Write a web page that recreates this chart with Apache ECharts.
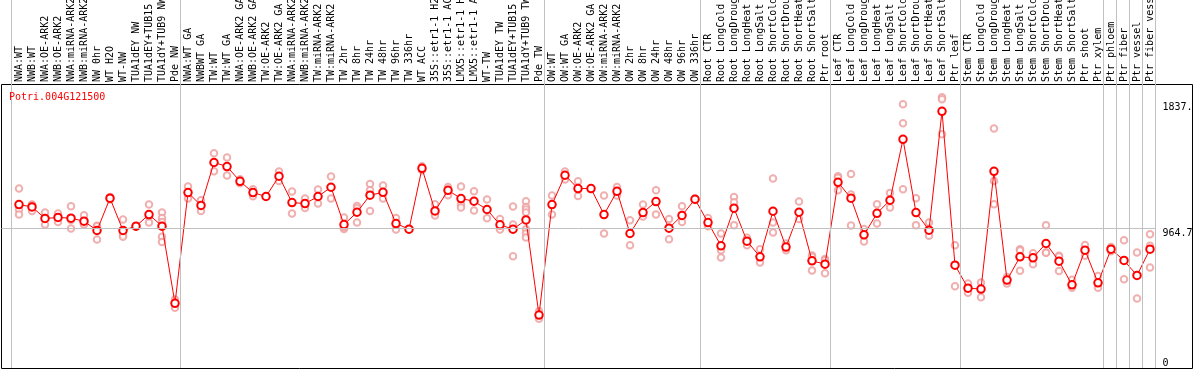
<!DOCTYPE html>
<html><head><meta charset="utf-8">
<script src="https://cdn.jsdelivr.net/npm/echarts@6/dist/echarts.min.js"></script>
<style>html,body{margin:0;padding:0;background:#fff}#c{width:1194px;height:370px}</style>
</head><body><div id="c"></div>
<script>
const chartTitle = 'Potri.004G121500';

const categories = [
  'NWA:WT','NWB:WT','NWA:OE-ARK2','NWB:OE-ARK2','NWA:miRNA-ARK2','NWB:miRNA-ARK2','NW 0hr','WT H2O','WT-NW','TUA1dEY NW','TUA1dEY+TUB15 NW','TUA1dY+TUB9 NW','Pde NW',
  'NWA:WT GA','NWBWT GA','TW:WT','TW:WT GA','NWA:OE-ARK2 GA','NWB:OE-ARK2 GA','TW:OE-ARK2','TW:OE-ARK2 GA','NWA:miRNA-ARK2 GA','NWB:miRNA-ARK2 GA','TW:miRNA-ARK2','TW:miRNA-ARK2 GA',
  'TW 2hr','TW 8hr','TW 24hr','TW 48hr','TW 96hr','TW 336hr','WT ACC','35S::etr1-1 H2O','35S::etr1-1 ACC','LMX5::etr1-1 H2O','LMX5::etr1-1 ACC','WT-TW','TUA1dEY TW','TUA1dEY+TUB15 TW','TUA1dY+TUB9 TW','Pde TW',
  'OW:WT','OW:WT GA','OW:OE-ARK2','OW:OE-ARK2 GA','OW:miRNA-ARK2','OW:miRNA-ARK2 GA','OW 2hr','OW 8hr','OW 24hr','OW 48hr','OW 96hr','OW 336hr',
  'Root CTR','Root LongCold','Root LongDrought','Root LongHeat','Root LongSalt','Root ShortCold','Root ShortDrought','Root ShortHeat','Root ShortSalt','Ptr root',
  'Leaf CTR','Leaf LongCold','Leaf LongDrought','Leaf LongHeat','Leaf LongSalt','Leaf ShortCold','Leaf ShortDrought','Leaf ShortHeat','Leaf ShortSalt','Ptr leaf',
  'Stem CTR','Stem LongCold','Stem LongDrought','Stem LongHeat','Stem LongSalt','Stem ShortCold','Stem ShortDrought','Stem ShortHeat','Stem ShortSalt','Ptr shoot','Ptr xylem',
  'Ptr phloem','Ptr fiber','Ptr vessel','Ptr fiber vessel'
];

const means = [
  1130,1114,1034,1041,1036,1015,951,1174,951,981,1061,981,447,
  1213,1124,1421,1393,1291,1213,1186,1326,1144,1137,1186,1250,992,1077,1195,1215,999,960,1381,1086,1229,1172,1153,1096,990,960,1024,366,
  1130,1333,1241,1241,1061,1222,930,1075,1151,967,1055,1167,
  1006,845,1105,877,769,1084,836,1077,741,718,
  1284,1174,921,1070,1160,1581,1075,953,1775,711,
  552,546,1360,608,769,762,861,739,575,815,589,
  822,744,640,822
];

const replicates = [
  [1241,1096,1061],[1130,1086,1125],[1075,1034,992],[1068,1043,1010],[1119,1024,965],[1056,997,992],[983,981,889],[1183,1165],[1027,919,907],[981],[1130,1047,1006],[1075,1038,1010,981,907,872],[474,416],
  [1255,1172],[1160,1086],[1485,1360],[1455,1331],[1305,1278],[1236,1188],[1186],[1358,1293],[1220,1068],[1172,1107],[1234,1137],[1324,1172],
  [1041,962,974],[1121,1105,1006],[1273,1229,1086],[1262,1172],[1038,958],[960],[1395,1367],[1132,1072,1054],[1252,1195],[1255,1130,1110],[1222,1089],[1165,1036],[1031,958],[1117,992,773],[1153,1114,1096,1075,960,930,903],[392,340],
  [1193,1061],[1358,1303],[1291,1190],[1241],[1193,930],[1252,1193],[1022,849],[1130,1048],[1229,1061],[1031,891],[1119,1010],[1172,1162],
  [1038,981],[930,815,764],[1183,1146,988],[900,849],[822,730],[1310,1006,937],[861,815],[1151,1031],[778,770,675],[753,745,656],
  [1326,1316,1229],[1342,1200,985],[962,875],[1133,999],[1211,1110],[1824,1692,1236],[1174,988],[1006,914],[1872,1858,1616],[849,566],
  [585,520],[592,490],[1657,1293,1133],[630,585],[822,812,672],[794,718],[988,799,797],[776,771,670],[610,555],[851,776],[637,555],
  [836,808],[884,613],[799,481],[925,845,695]
];

// group separators: boundary placed before these category indices
const groupBoundaries = [0,13,41,53,63,73,84,85,86,87,88];

const yTickValues = [1837, 964.7, 0];
const yTickLabels = ['1837.', '964.7', '0'];
const refLineValue = 964.7;
const yTopValue = 1957;   // value at the top edge of the plot box

// ---- layout ----
const FONT = 'DejaVu Sans Mono';
const n = categories.length;
const band = 13;
const plotLeft = 12.5;
const plotTop = 85, plotBottom = 368;
const plotRight = plotLeft + band * n;
const frameL = 1.5, frameR = 1192.5;
const fullXMin = -0.5 - (plotLeft - frameL) / band;
const fullXMax = n - 0.5 + (frameR - plotRight) / band;
const fullYMax = yTopValue * plotBottom / (plotBottom - plotTop);
const sepShift = 1 / band;
const lineEnd = n - 0.5 - sepShift;

const repData = [];
replicates.forEach((arr, i) => arr.forEach(v => repData.push([i, v])));

const markData = groupBoundaries.map(b => ({ xAxis: b - 0.5 - sepShift, label: { show: false },
  lineStyle: { color: '#c0c0c0', width: 1, type: 'solid' } }));

yTickValues.forEach((v, i) => {
  const isRef = v === refLineValue;
  markData.push([
    { coord: [fullXMin, v],
      lineStyle: { color: isRef ? '#c0c0c0' : 'rgba(0,0,0,0)', width: 1, type: 'solid' },
      label: { show: true, position: 'end', distance: 7, formatter: yTickLabels[i], color: '#000',
               fontFamily: FONT, fontSize: 10, verticalAlign: v === 0 ? 'bottom' : 'top' } },
    { coord: [lineEnd, v] }
  ]);
});

const noBounds = { outerBoundsMode: 'none', containLabel: false };

const chart = echarts.init(document.getElementById('c'), null, { renderer: 'canvas' });
chart.setOption({
  animation: false,
  backgroundColor: '#fff',
  title: { text: chartTitle, left: 9, top: 92, padding: 0,
    textStyle: { color: '#ff0000', fontFamily: FONT, fontSize: 10, fontWeight: 'normal' } },
  grid: [
    Object.assign({ left: plotLeft, top: plotTop, width: band * n, height: plotBottom - plotTop, show: false }, noBounds),
    Object.assign({ left: frameL, top: 84.5, width: frameR - frameL, height: 284, show: true, borderColor: '#000', borderWidth: 1, backgroundColor: 'transparent' }, noBounds),
    Object.assign({ left: frameL, top: 0, width: frameR - frameL, height: plotBottom, show: false }, noBounds)
  ],
  xAxis: [
    { type: 'category', gridIndex: 0, position: 'top', data: categories, boundaryGap: true,
      axisLine: { show: false }, axisTick: { show: false }, splitLine: { show: false },
      axisLabel: { interval: 0, rotate: 90, margin: 3, color: '#000', fontFamily: FONT, fontSize: 10, hideOverlap: false } },
    { type: 'value', gridIndex: 1, min: 0, max: 1, show: false },
    { type: 'value', gridIndex: 2, min: fullXMin, max: fullXMax, show: false }
  ],
  yAxis: [
    { type: 'value', gridIndex: 0, min: 0, max: yTopValue, show: false, splitLine: { show: false } },
    { type: 'value', gridIndex: 1, min: 0, max: 1, show: false },
    { type: 'value', gridIndex: 2, min: 0, max: fullYMax, show: false }
  ],
  series: [
    { type: 'line', xAxisIndex: 2, yAxisIndex: 2, data: [], z: 1, silent: true,
      markLine: { silent: true, symbol: ['none', 'none'], animation: false, data: markData } },
    { type: 'scatter', xAxisIndex: 0, yAxisIndex: 0, data: repData, z: 2,
      symbol: 'emptyCircle', symbolSize: 6.5,
      itemStyle: { color: '#ec9c9c', borderColor: '#ec9c9c', borderWidth: 1.2 } },
    { type: 'line', xAxisIndex: 0, yAxisIndex: 0, data: means, z: 3,
      symbol: 'emptyCircle', symbolSize: 7.5, showAllSymbol: true,
      lineStyle: { color: '#ff0000', width: 1 },
      itemStyle: { color: '#ff0000', borderColor: '#ff0000', borderWidth: 1.5 } }
  ]
});
</script></body></html>
